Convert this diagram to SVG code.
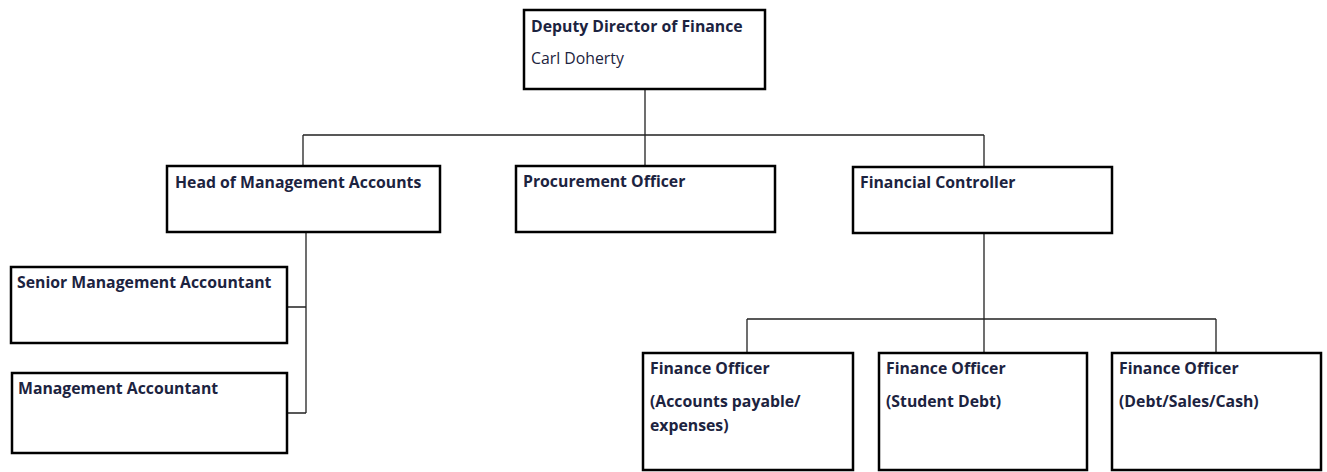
<svg xmlns="http://www.w3.org/2000/svg" width="1327" height="472" viewBox="0 0 1327 472">
<style>
.box{fill:#ffffff;stroke:#000000;stroke-width:2.5}
.conn{fill:none;stroke:#222222;stroke-width:1.3}
text{font-family:"Open Sans","Liberation Sans",Arial,sans-serif;font-size:15.8px;fill:#1c2340}
.b{font-weight:bold}
</style>
<rect width="1327" height="472" fill="#ffffff"/>
<g id="connectors">
<path class="conn" d="M645,90 V135 M303,135 H984 M303,135 V166 M645,135 V166 M984,135 V167"/>
<path class="conn" d="M306,232 V413 M287,307 H306 M287,413 H306"/>
<path class="conn" d="M984,233 V319 M747,319 H1216 M747,319 V353 M984,319 V353 M1216,319 V353"/>
</g>
<g id="deputy">
<rect class="box" x="524" y="10" width="241" height="79"/>
<text class="b" x="531" y="32">Deputy Director of Finance</text>
<text x="531" y="64">Carl Doherty</text>
</g>
<g id="head-mgmt">
<rect class="box" x="167" y="166" width="273" height="66"/>
<text class="b" x="175" y="188">Head of Management Accounts</text>
</g>
<g id="procurement">
<rect class="box" x="516" y="166" width="259" height="66"/>
<text class="b" x="523" y="187">Procurement Officer</text>
</g>
<g id="fin-controller">
<rect class="box" x="853" y="167" width="259" height="66"/>
<text class="b" x="860" y="188">Financial Controller</text>
</g>
<g id="senior-mgmt">
<rect class="box" x="11" y="267" width="276" height="76"/>
<text class="b" x="17" y="288">Senior Management Accountant</text>
</g>
<g id="mgmt-acc">
<rect class="box" x="12" y="373" width="275" height="80"/>
<text class="b" x="18" y="394">Management Accountant</text>
</g>
<g id="fo-ap">
<rect class="box" x="643" y="353" width="210" height="117"/>
<text class="b" x="650" y="374">Finance Officer</text>
<text class="b" x="650" y="407">(Accounts payable/</text>
<text class="b" x="650" y="431">expenses)</text>
</g>
<g id="fo-sd">
<rect class="box" x="879" y="353" width="208" height="117"/>
<text class="b" x="886" y="374">Finance Officer</text>
<text class="b" x="886" y="407">(Student Debt)</text>
</g>
<g id="fo-dsc">
<rect class="box" x="1112" y="353" width="209" height="117"/>
<text class="b" x="1119" y="374">Finance Officer</text>
<text class="b" x="1119" y="407">(Debt/Sales/Cash)</text>
</g>
</svg>
